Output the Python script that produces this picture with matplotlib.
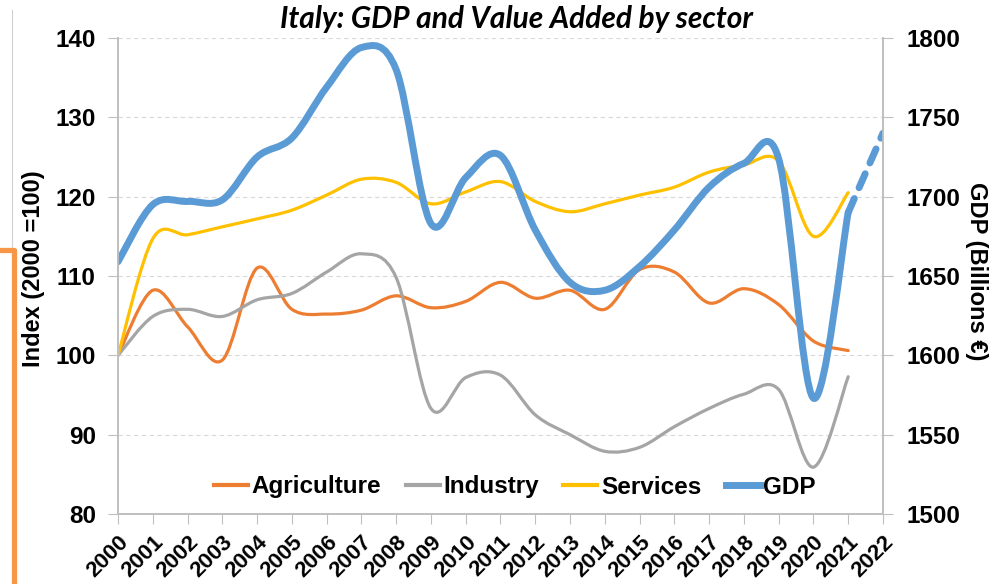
import numpy as np
import matplotlib
matplotlib.use("Agg")
import matplotlib.pyplot as plt
from matplotlib.path import Path
from matplotlib.patches import PathPatch
from matplotlib.lines import Line2D

plt.rcParams['font.family'] = ['Liberation Sans', 'DejaVu Sans']
plt.rcParams['font.weight'] = 'bold'

years = list(range(2000, 2023))
agriculture = [100, 108.2, 103.6, 99.4, 111.0, 105.8, 105.2, 105.7, 107.5, 106.0, 106.8,
               109.2, 107.2, 108.2, 105.8, 110.8, 110.5, 106.6, 108.4, 106.4, 101.8, 100.6]
industry = [100, 104.9, 105.8, 104.9, 107.0, 107.8, 110.5, 112.8, 109.8, 93.3, 97.2,
            97.5, 92.5, 90.0, 87.9, 88.4, 91.0, 93.3, 95.1, 95.7, 85.9, 97.3]
services = [100, 114.7, 115.2, 116.2, 117.2, 118.3, 120.2, 122.2, 121.8, 119.1, 120.6,
            121.9, 119.4, 118.1, 119.1, 120.2, 121.2, 123.1, 124.0, 124.5, 115.0, 120.5]
gdp = [1659, 1695, 1697, 1698, 1725, 1737, 1769, 1794, 1780, 1683, 1712,
       1726, 1679, 1646, 1641, 1656, 1679, 1706, 1721, 1724, 1573, 1690]
gdp_forecast_years = [2021, 2022]
gdp_forecast = [1690, 1740]

c_agr = '#ED7D31'
c_ind = '#A5A5A5'
c_ser = '#FFC000'
c_gdp = '#5B9BD5'


def smooth_path(xs, ys):
    # Excel-style smoothed line: cubic Bezier through every data point
    pts = np.column_stack([xs, ys]).astype(float)
    n = len(pts)
    verts = [pts[0]]
    codes = [Path.MOVETO]
    for i in range(n - 1):
        p0 = pts[max(i - 1, 0)]
        p1 = pts[i]
        p2 = pts[i + 1]
        p3 = pts[min(i + 2, n - 1)]
        verts += [p1 + (p2 - p0) / 6, p2 - (p3 - p1) / 6, p2]
        codes += [Path.CURVE4] * 3
    return Path(verts, codes)


fig = plt.figure(figsize=(9.96, 5.84), dpi=100)
ax1 = fig.add_axes([0.1185, 0.1199, 0.768, 0.815])
ax2 = ax1.twinx()

yrs = years[:len(agriculture)]
for vals, col in [(agriculture, c_agr), (industry, c_ind), (services, c_ser)]:
    ax1.add_patch(PathPatch(smooth_path(yrs, vals), fill=False, edgecolor=col,
                            lw=2.3, capstyle='round', joinstyle='round'))
ax2.add_patch(PathPatch(smooth_path(yrs, gdp), fill=False, edgecolor=c_gdp,
                        lw=5, capstyle='round', joinstyle='round'))
ax2.plot(gdp_forecast_years, gdp_forecast, color=c_gdp, lw=5,
         dashes=(2.2, 1.7), dash_capstyle='round')

ax1.set_xlim(2000, 2022)
ax1.set_ylim(80, 140)
ax2.set_ylim(1500, 1800)
ax1.set_yticks(range(80, 141, 10))
ax2.set_yticks(range(1500, 1801, 50))
ax1.set_xticks(years)
ax1.set_xticklabels([str(y) for y in years], rotation=45, ha='right', va='top',
                    rotation_mode='anchor', fontsize=16, fontweight='bold')
ax1.tick_params(axis='x', length=7, color='#bfbfbf', pad=6)
ax1.tick_params(axis='y', labelsize=17.5, length=7, color='#bfbfbf', pad=9)
ax2.tick_params(axis='y', labelsize=17.5, length=7, color='#bfbfbf', pad=10)

ax1.grid(axis='y', color='#d9d9d9', ls=(0, (4, 3)), lw=0.8)
ax1.set_axisbelow(True)
for ax in (ax1, ax2):
    ax.spines['top'].set_visible(False)
    for s in ('left', 'bottom', 'right'):
        ax.spines[s].set_color('#bfbfbf')
        ax.spines[s].set_linewidth(1.2)

ax1.set_ylabel('Index (2000 =100)', fontsize=17, fontweight='bold', va='center')
ax1.yaxis.set_label_coords(-0.111, 0.515)
ax2.set_ylabel('GDP (Billions \u20ac)', fontsize=17, fontweight='bold', rotation=-90,
               va='center')
ax2.yaxis.set_label_coords(1.122, 0.51)

fig.text(0.519, 0.968, 'Italy: GDP and Value Added by sector', ha='center', va='center',
         fontsize=21.5, fontweight='bold', style='italic', family=['Lato', 'DejaVu Sans'])

handles = [Line2D([], [], color=c_agr, lw=3),
           Line2D([], [], color=c_ind, lw=3),
           Line2D([], [], color=c_ser, lw=3),
           Line2D([], [], color=c_gdp, lw=5)]
ax2.legend(handles, ['Agriculture', 'Industry', 'Services', 'GDP'], ncol=4,
           loc='center', bbox_to_anchor=(515 / 996, 1 - 487 / 584),
           bbox_transform=fig.transFigure, frameon=False, fontsize=17.5,
           handlelength=1.4, handletextpad=0.15, columnspacing=1.0)

# frame remnants at the left edge of the screenshot
fig.add_artist(Line2D([12 / 996, 12 / 996], [1 - 10 / 584, 1 - 250 / 584],
                      transform=fig.transFigure, color='#d0d0d0', lw=0.8))
fig.add_artist(Line2D([0, 14 / 996, 14 / 996], [1 - 250 / 584, 1 - 250 / 584, 0],
                      transform=fig.transFigure, color='#F79646', lw=3.8,
                      solid_joinstyle='round'))

fig.savefig('out.png', dpi=100)
